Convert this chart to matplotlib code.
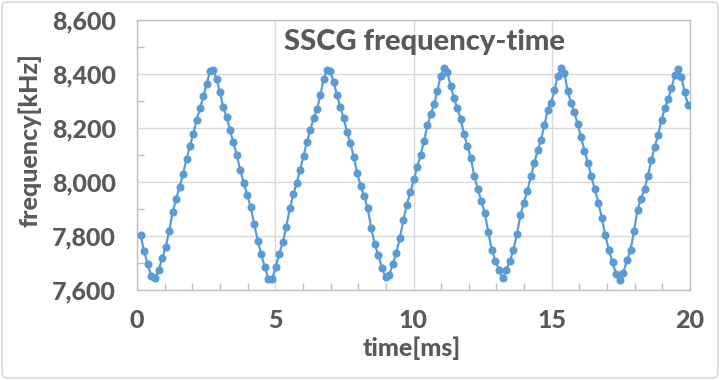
import numpy as np
import matplotlib.pyplot as plt
from matplotlib.ticker import FuncFormatter, MultipleLocator
from matplotlib.patches import FancyBboxPatch

freq = [
    7.802, 7.744, 7.695, 7.653, 7.643, 7.673, 7.717, 7.758, 7.820, 7.890,
    7.938, 7.983, 8.031, 8.085, 8.134, 8.178, 8.230, 8.274, 8.319, 8.362,
    8.411, 8.415, 8.382, 8.334, 8.278, 8.241, 8.193, 8.149, 8.100, 8.046,
    7.998, 7.953, 7.909, 7.846, 7.783, 7.732, 7.684, 7.639, 7.639, 7.687,
    7.734, 7.776, 7.835, 7.902, 7.954, 7.998, 8.046, 8.097, 8.149, 8.193,
    8.238, 8.270, 8.322, 8.382, 8.415, 8.410, 8.372, 8.322, 8.278, 8.238,
    8.185, 8.144, 8.092, 8.033, 7.985, 7.948, 7.902, 7.831, 7.769, 7.729,
    7.682, 7.648, 7.655, 7.695, 7.738, 7.793, 7.861, 7.916, 7.963, 8.010,
    8.055, 8.101, 8.153, 8.210, 8.251, 8.288, 8.338, 8.394, 8.422, 8.406,
    8.356, 8.311, 8.274, 8.234, 8.178, 8.133, 8.089, 8.023, 7.975, 7.930,
    7.887, 7.815, 7.748, 7.708, 7.674, 7.643, 7.674, 7.708, 7.748, 7.807,
    7.877, 7.924, 7.968, 8.021, 8.071, 8.117, 8.156, 8.212, 8.265, 8.292,
    8.341, 8.394, 8.422, 8.405, 8.338, 8.293, 8.258, 8.215, 8.165, 8.116,
    8.071, 8.021, 7.973, 7.924, 7.868, 7.802, 7.748, 7.702, 7.658, 7.637,
    7.664, 7.710, 7.748, 7.819, 7.898, 7.938, 7.975, 8.023, 8.082, 8.130,
    8.175, 8.230, 8.274, 8.308, 8.347, 8.396, 8.420, 8.390, 8.332, 8.286,
]
freq = np.array(freq)
# each sample ends one period later [ms]
time = np.cumsum(1.0 / freq)

text_col = "#595959"
font = ["Lato", "DejaVu Sans"]
weight = "black"

fig = plt.figure(figsize=(7.2, 3.8), dpi=100)
ax = fig.add_axes([137 / 720, 1 - 290 / 380, 553 / 720, 270 / 380])

ax.plot(time, freq, "-o", color="#5B9BD5", lw=1.6, ms=4.8, zorder=3)

ax.set_xlim(0, 20)
ax.set_ylim(7.6, 8.6)
ax.xaxis.set_major_locator(MultipleLocator(5))
ax.xaxis.set_minor_locator(MultipleLocator(1))
ax.yaxis.set_major_locator(MultipleLocator(0.2))
ax.yaxis.set_minor_locator(MultipleLocator(0.1))
ax.yaxis.set_major_formatter(FuncFormatter(lambda v, p: f"{v * 1000:,.0f}"))

ax.grid(True, which="major", color="#D9D9D9", lw=1.0)
for s in ax.spines.values():
    s.set_color("#BFBFBF")
    s.set_linewidth(1.0)

ax.tick_params(which="major", length=0, pad=15, labelcolor=text_col)
ax.tick_params(which="minor", direction="in", length=5, color="#BFBFBF", width=1.0)
ax.tick_params(axis="x", which="major", pad=14)
for lab in ax.get_xticklabels() + ax.get_yticklabels():
    lab.set_family(font)
    lab.set_fontweight(weight)
    lab.set_fontsize(18)

fig.text(424 / 720, 1 - 42 / 380, "SSCG frequency-time", ha="center", va="center",
         family=font, fontweight=weight, fontsize=21, color=text_col)
fig.text(412 / 720, 1 - 348 / 380, "time[ms]", ha="center", va="center",
         family=font, fontweight=weight, fontsize=18, color=text_col)
fig.text(30 / 720, 1 - 140 / 380, "frequency[kHz]", ha="center", va="center",
         rotation=90, family=font, fontweight=weight, fontsize=18, color=text_col)

border = FancyBboxPatch((0.003, 0.005), 0.994, 0.99, boxstyle="round,pad=0,rounding_size=0.01",
                        transform=fig.transFigure, fill=False, ec="#D9D9D9", lw=1.2)
fig.patches.append(border)

fig.savefig("out.png", dpi=100)
